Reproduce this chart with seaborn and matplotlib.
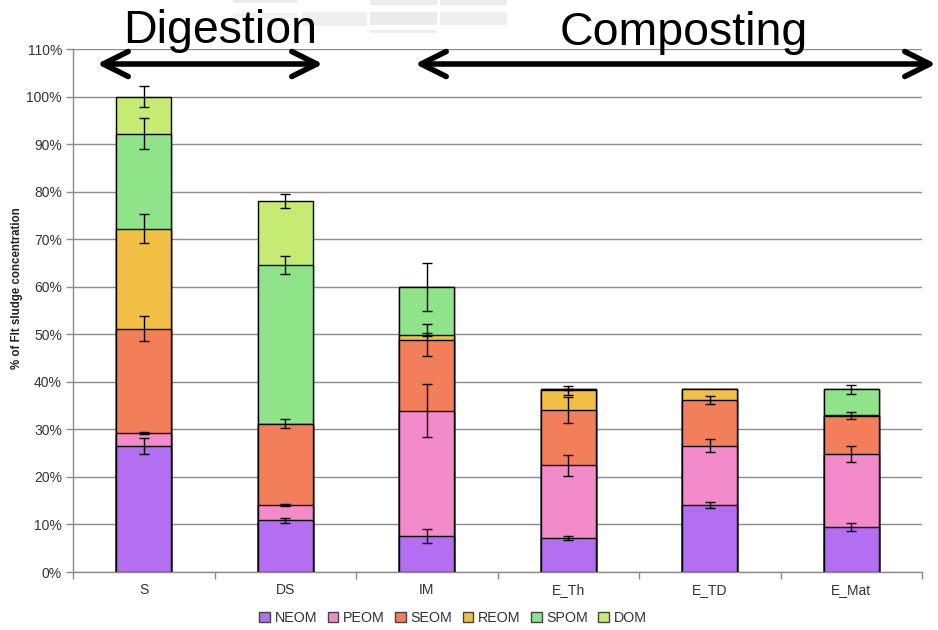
import numpy as np
import pandas as pd
import matplotlib
matplotlib.use("Agg")
import matplotlib.pyplot as plt
import seaborn as sns
from matplotlib.patches import Rectangle

# Samples along the treatment chain and organic-matter fractions (bottom to top)
samples = ["S", "DS", "IM", "E_Th", "E_TD", "E_Mat"]
fractions = ["NEOM", "PEOM", "SEOM", "REOM", "SPOM", "DOM"]
colors = ["#B36EF1", "#F38AC9", "#F27E5A", "#F2BF45", "#8FE389", "#C5EB73"]

# Fraction shares (% of filtered sludge concentration)
neom = [26.5, 10.9, 7.6, 7.2, 14.1, 9.5]
peom = [2.7, 3.2, 26.3, 15.2, 12.5, 15.4]
seom = [22.0, 17.1, 14.9, 11.7, 9.6, 8.0]
reom = [21.0, 0.0, 1.1, 4.1, 2.2, 0.2]
spom = [20.0, 33.4, 10.1, 0.2, 0.0, 5.3]
dom = [7.8, 13.4, 0.0, 0.0, 0.0, 0.0]

# Standard deviations of each fraction
neom_err = [1.75, 0.55, 1.5, 0.4, 0.6, 0.85]
peom_err = [0.2, 0.15, 5.6, 2.2, 1.3, 1.7]
seom_err = [2.7, 1.0, 3.3, 2.7, 0.8, 0.75]
reom_err = [3.0, 0.0, 0.3, 0.9, 0.0, 0.0]
spom_err = [3.2, 1.9, 5.0, 0.15, 0.0, 0.9]
dom_err = [2.2, 1.5, 0.0, 0.0, 0.0, 0.0]

y_ticks = list(range(0, 111, 10))

values = np.array([neom, peom, seom, reom, spom, dom])
errors = np.array([neom_err, peom_err, seom_err, reom_err, spom_err, dom_err])
tops = values.cumsum(axis=0)

rows = []
for fi, frac in enumerate(fractions):
    for si, s in enumerate(samples):
        rows.append({"sample": s, "fraction": frac, "top": tops[fi, si]})
df = pd.DataFrame(rows)

sns.set_theme(style="white")
plt.rcParams["font.family"] = ["Liberation Sans", "DejaVu Sans"]

fig = plt.figure(figsize=(9.38, 6.30), dpi=100)
ax = fig.add_axes([73 / 938, 1 - 572 / 630, (922 - 73) / 938, (572 - 49) / 630])

# stacked bars: draw cumulative heights from the top fraction down
sns.barplot(data=df, x="sample", y="top", hue="fraction",
            hue_order=fractions[::-1], palette=dict(zip(fractions, colors)),
            order=samples, dodge=False, width=0.39, edgecolor="black",
            linewidth=1.0, saturation=1, errorbar=None, legend=False, ax=ax,
            zorder=2)

xpos = np.arange(len(samples))
for fi in range(len(fractions)):
    err = errors[fi]
    mask = err > 0
    ax.errorbar(xpos[mask], tops[fi][mask], yerr=err[mask], fmt="none",
                ecolor="black", elinewidth=1.0, capsize=3.5, capthick=1.0,
                zorder=4)

ax.set_xlim(-0.5, len(samples) - 0.5)
ax.set_ylim(0, 110)
ax.set_yticks(y_ticks)
ax.set_yticklabels([f"{t}%" for t in y_ticks])
ax.set_xticks(xpos)
ax.set_xticklabels(samples)
ax.set_xticks(np.arange(-0.5, len(samples)), minor=True)
ax.set_xlabel("")
ax.set_ylabel("")

ax.grid(axis="y", color="#8C8C8C", linewidth=1.0, zorder=0)
ax.grid(axis="x", visible=False)
ax.set_axisbelow(True)
for side in ["top", "right"]:
    ax.spines[side].set_visible(False)
for side in ["left", "bottom"]:
    ax.spines[side].set_color("#8C8C8C")
    ax.spines[side].set_linewidth(1.0)

ax.tick_params(axis="y", which="major", left=True, length=5, width=1,
               color="#8C8C8C", labelsize=10, labelcolor="#333333", pad=3)
ax.tick_params(axis="x", which="major", bottom=False, labelsize=10,
               labelcolor="#333333", pad=2)
ax.tick_params(axis="x", which="minor", bottom=True, length=5, width=1,
               color="#8C8C8C")

fig.text(17 / 938, 1 - 288 / 630, "% of Flt sludge concentration",
         rotation=90, ha="center", va="center", fontsize=8.3,
         fontweight="bold", color="#222222")

# legend along the bottom
handles = [Rectangle((0, 0), 1, 1, facecolor=c, edgecolor="#444444", lw=1.0)
           for c in colors]
fig.legend(handles, fractions, loc="center", ncol=6,
           bbox_to_anchor=(453 / 938, 1 - 618 / 630), frameon=False,
           fontsize=10.3, handlelength=0.75, handleheight=0.75,
           handletextpad=0.3, columnspacing=0.75, labelcolor="#333333")

# faint table fragments behind the headings
frag = [(233, 0, 64, 3, "#EBEBEB"), (233, 13, 64, 5, "#F2F2F2"),
        (302, 12, 65, 14, "#EFEFEF"), (370, 0, 67, 5, "#EBEBEB"),
        (370, 12, 67, 13, "#EBEBEB"), (370, 30, 67, 3, "#EEEEEE"),
        (440, 0, 67, 5, "#EBEBEB"), (440, 12, 67, 13, "#EEEEEE")]
for x0, y0, w, h, c in frag:
    fig.patches.append(Rectangle((x0 / 938, 1 - (y0 + h) / 630), w / 938,
                                 h / 630, transform=fig.transFigure,
                                 facecolor=c, edgecolor="none", zorder=0))

# process stage headings and spans
fig.text(220 / 938, 1 - 43 / 630, "Digestion", ha="center", va="baseline",
         fontsize=33.5, color="black")
fig.text(684 / 938, 1 - 45 / 630, "Composting", ha="center", va="baseline",
         fontsize=33.5, color="black")

arrow_y = 1 - 64 / 630
for x_a, x_b in [(97, 323), (415, 936)]:
    fig.add_artist(matplotlib.patches.FancyArrowPatch(
        (x_a / 938, arrow_y), (x_b / 938, arrow_y),
        transform=fig.transFigure,
        arrowstyle="<->,head_length=18,head_width=9",
        mutation_scale=1, lw=4, color="black", capstyle="round",
        joinstyle="round", shrinkA=0, shrinkB=0, zorder=10))

fig.savefig("out.png", dpi=100)
